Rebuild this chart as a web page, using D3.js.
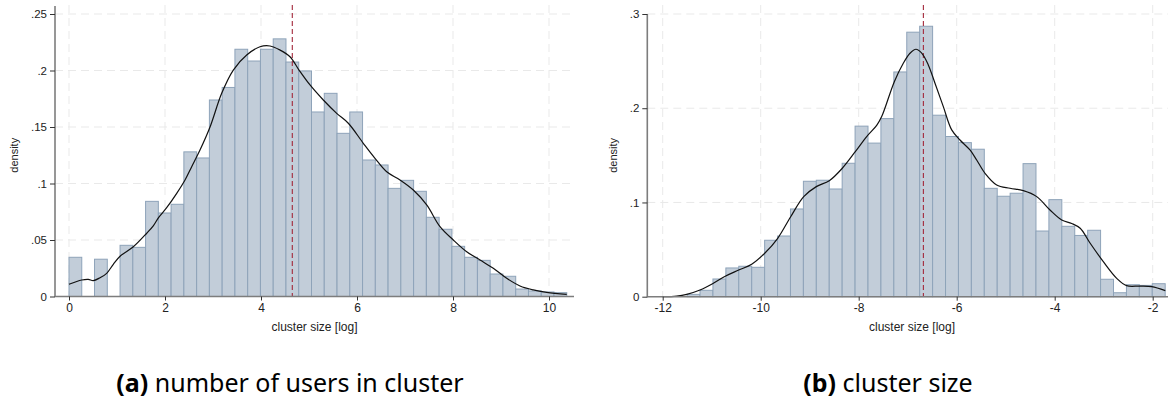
<!DOCTYPE html>
<html>
<head>
<meta charset="utf-8">
<script src="https://cdn.jsdelivr.net/npm/d3@7/dist/d3.min.js"></script>
<style>
  html, body { margin: 0; padding: 0; background: #fff; }
  svg { display: block; }
  .tick text { font-family: "Liberation Sans", Arial, sans-serif; }
</style>
</head>
<body>
<svg id="chart" width="1172" height="400"></svg>
<script>
// ---------- data ----------
// (a) number of users in cluster
const binStartA = 0;
const binWidthA = 0.2659;
const densityA = [0.0347, 0, 0.033, 0, 0.0453, 0.0435, 0.0842, 0.0739, 0.0816, 0.128,
  0.1226, 0.1739, 0.185, 0.2188, 0.2084, 0.2188, 0.228, 0.2075, 0.1996, 0.1633,
  0.1798, 0.1444, 0.1633, 0.1208, 0.1164, 0.0957, 0.1028, 0.0931, 0.0701, 0.0595,
  0.0444, 0.0347, 0.032, 0.0199, 0.0179, 0.0066, 0.0049, 0.004, 0.0034];
const kdeAx = [0, 0.265, 0.402, 0.506, 0.646, 0.785, 0.923, 1.069, 1.34, 1.619, 1.756, 1.869,
  2.035, 2.244, 2.417, 2.556, 2.729, 2.938, 3.181, 3.423, 3.702, 3.979, 4.188, 4.396, 4.604,
  4.792, 5.021, 5.298, 5.577, 5.819, 6.131, 6.375, 6.619, 6.896, 7.173, 7.452, 7.729, 8.006,
  8.285, 8.563, 8.84, 9.119, 9.396, 9.673, 9.952, 10.369];
const kdeAy = [0.0108, 0.0146, 0.0152, 0.014, 0.0166, 0.0205, 0.0285, 0.0358, 0.044, 0.056, 0.0625, 0.07,
  0.0786, 0.0913, 0.1031, 0.1149, 0.1296, 0.15, 0.1798, 0.2004, 0.2137, 0.221, 0.2217, 0.2181, 0.2122,
  0.2004, 0.1872, 0.1739, 0.1621, 0.1533, 0.1356, 0.1223, 0.1104, 0.1031, 0.0942, 0.081, 0.0618, 0.05,
  0.0396, 0.0323, 0.025, 0.0161, 0.0093, 0.0058, 0.0037, 0.0019];
const meanA = 4.652;
const xTicksA = [0, 2, 4, 6, 8, 10];
const yTicksA = [0, 0.05, 0.1, 0.15, 0.2, 0.25];
const yLabelsA = ["0", ".05", ".1", ".15", ".2", ".25"];

// (b) cluster size
const binStartB = -11.502;
const binWidthB = 0.2637;
const densityB = [0.0025, 0.0068, 0.0188, 0.0305, 0.0323, 0.0312, 0.0599, 0.0644, 0.0931, 0.1225,
  0.1236, 0.1143, 0.1416, 0.181, 0.163, 0.189, 0.2385, 0.2807, 0.287, 0.1926,
  0.170, 0.1635, 0.1565, 0.115, 0.1066, 0.1098, 0.1412, 0.0697, 0.103, 0.0747,
  0.065, 0.0705, 0.0185, 0.0042, 0.0127, 0.012, 0.0138];
const kdeBx = [-12.0, -11.714, -11.51, -11.239, -10.967, -10.714, -10.449, -10.184, -9.918, -9.653,
  -9.388, -9.122, -8.865, -8.6, -8.335, -8.069, -7.837, -7.633, -7.531, -7.273, -7.09, -6.953,
  -6.831, -6.714, -6.58, -6.443, -6.273, -6.102, -5.933, -5.729, -5.592, -5.422, -5.184, -4.912,
  -4.641, -4.367, -4.096, -3.857, -3.653, -3.48, -3.276, -3.008, -2.734, -2.531, -2.259, -2.02, -1.743];
const kdeBy = [0, 0.0007, 0.0025, 0.0071, 0.0142, 0.022, 0.0283, 0.0345, 0.0461, 0.062,
  0.0849, 0.1062, 0.1168, 0.1231, 0.1363, 0.1539, 0.1699, 0.1818, 0.1911, 0.2282, 0.2477, 0.2584,
  0.2626, 0.2584, 0.246, 0.2265, 0.2017, 0.177, 0.1663, 0.1557, 0.1451, 0.131, 0.1186, 0.1151,
  0.1125, 0.1062, 0.092, 0.0814, 0.0777, 0.0726, 0.0567, 0.0372, 0.0195, 0.0117, 0.0113, 0.0106, 0.0064];
const meanB = -6.68;
const xTicksB = [-12, -10, -8, -6, -4, -2];
const yTicksB = [0, 0.1, 0.2, 0.3];
const yLabelsB = ["0", ".1", ".2", ".3"];

const xTitle = "cluster size [log]";
const yTitle = "density";
const captionA = ["(a)", " number of users in cluster"];
const captionB = ["(b)", " cluster size"];

// ---------- drawing ----------
const svg = d3.select("#chart");
const BAR_FILL = "#c2cdd9", BAR_STROKE = "#8ea3b9";
const GRID = "#e9e9e9", AXIS = "#7d7d7d", MEAN = "#a3283a";

function panel(cfg) {
  const g = svg.append("g");
  const x = d3.scaleLinear().domain(cfg.xDom).range(cfg.xRange);
  const y = d3.scaleLinear().domain(cfg.yDom).range(cfg.yRange);
  const y0 = y(0);

  // grid
  g.append("g").selectAll("line").data(cfg.xTicks).join("line")
    .attr("x1", d => x(d)).attr("x2", d => x(d))
    .attr("y1", cfg.gridTop).attr("y2", y0)
    .attr("stroke", GRID).attr("stroke-width", 1).attr("stroke-dasharray", "8,5");
  g.append("g").selectAll("line").data(cfg.yTicks.filter(d => d > 0)).join("line")
    .attr("x1", cfg.axisX).attr("x2", cfg.rightEdge)
    .attr("y1", d => y(d)).attr("y2", d => y(d))
    .attr("stroke", GRID).attr("stroke-width", 1).attr("stroke-dasharray", "8,5");

  // bars
  const bins = cfg.density.map((v, i) => ({
    v, x0: cfg.binStart + i * cfg.binWidth, x1: cfg.binStart + (i + 1) * cfg.binWidth
  })).filter(d => d.v > 0);
  g.append("g").selectAll("rect").data(bins).join("rect")
    .attr("x", d => x(d.x0))
    .attr("width", d => x(d.x1) - x(d.x0))
    .attr("y", d => y(d.v))
    .attr("height", d => y0 - y(d.v))
    .attr("fill", BAR_FILL).attr("stroke", BAR_STROKE).attr("stroke-width", 1);

  // mean line
  g.append("line")
    .attr("x1", x(cfg.mean)).attr("x2", x(cfg.mean))
    .attr("y1", cfg.gridTop).attr("y2", y0)
    .attr("stroke", MEAN).attr("stroke-width", 1.1).attr("stroke-dasharray", "5,3");

  // kde
  const pts = cfg.kx.map((v, i) => [v, cfg.ky[i]]);
  g.append("path").datum(pts)
    .attr("d", d3.line().x(d => x(d[0])).y(d => y(d[1])).curve(d3.curveCatmullRom.alpha(0.5)))
    .attr("fill", "none").attr("stroke", "#111").attr("stroke-width", 1.2);

  // axes lines
  g.append("line").attr("x1", cfg.axisX).attr("x2", cfg.axisX)
    .attr("y1", cfg.axisTop).attr("y2", y0 + 0.5)
    .attr("stroke", AXIS).attr("stroke-width", 1.6);
  g.append("line").attr("x1", cfg.axisX).attr("x2", cfg.rightEdge)
    .attr("y1", y0).attr("y2", y0)
    .attr("stroke", AXIS).attr("stroke-width", 1.6);

  // y axis ticks
  const ya = d3.axisLeft(y).tickValues(cfg.yTicks).tickFormat((d, i) => cfg.yLabels[i])
    .tickSize(5).tickPadding(3);
  const yg = g.append("g").attr("transform", `translate(${cfg.axisX},0)`).call(ya);
  yg.select(".domain").remove();
  yg.selectAll(".tick line").attr("stroke", "#333").attr("stroke-width", 1);
  yg.selectAll(".tick text").attr("font-size", 11.5).attr("fill", "#222");

  // x axis ticks
  const xa = d3.axisBottom(x).tickValues(cfg.xTicks).tickFormat(d => String(d))
    .tickSize(4).tickPadding(3);
  const xg = g.append("g").attr("transform", `translate(0,${y0})`).call(xa);
  xg.select(".domain").remove();
  xg.selectAll(".tick line").attr("stroke", "#333").attr("stroke-width", 1);
  xg.selectAll(".tick text").attr("font-size", 12).attr("fill", "#222");

  // titles
  g.append("text").text(xTitle)
    .attr("x", cfg.xTitleX).attr("y", 331)
    .attr("text-anchor", "middle").attr("font-family", "Liberation Sans, Arial, sans-serif")
    .attr("font-size", 12).attr("fill", "#222");
  g.append("text").text(yTitle)
    .attr("transform", `translate(${cfg.yTitleX},${(cfg.yRange[0] + cfg.yRange[1]) / 2}) rotate(-90)`)
    .attr("text-anchor", "middle").attr("dominant-baseline", "central")
    .attr("font-family", "Liberation Sans, Arial, sans-serif")
    .attr("font-size", 11).attr("fill", "#222");

  // caption
  const t = g.append("text").attr("x", cfg.capX).attr("y", 392)
    .attr("text-anchor", "middle").attr("font-family", "Noto Sans, Open Sans, sans-serif")
    .attr("font-size", 25).attr("fill", "#000");
  t.append("tspan").attr("font-weight", "bold").text(cfg.caption[0]);
  t.append("tspan").text(cfg.caption[1]);
}

panel({
  xDom: [0, 10], xRange: [69, 549], yDom: [0, 0.25], yRange: [296.5, 14],
  axisX: 55, axisTop: 6, gridTop: 5, rightEdge: 574,
  xTicks: xTicksA, yTicks: yTicksA, yLabels: yLabelsA,
  binStart: binStartA, binWidth: binWidthA, density: densityA,
  kx: kdeAx, ky: kdeAy, mean: meanA, yTitleX: 14, xTitleX: 314.5, capX: 290, caption: captionA
});
panel({
  xDom: [-12, -2], xRange: [662.7, 1152.7], yDom: [0, 0.3], yRange: [296.7, 14],
  axisX: 647.3, axisTop: 14, gridTop: 5, rightEdge: 1168,
  xTicks: xTicksB, yTicks: yTicksB, yLabels: yLabelsB,
  binStart: binStartB, binWidth: binWidthB, density: densityB,
  kx: kdeBx, ky: kdeBy, mean: meanB, yTitleX: 612.5, xTitleX: 912, capX: 888, caption: captionB
});
</script>
</body>
</html>
